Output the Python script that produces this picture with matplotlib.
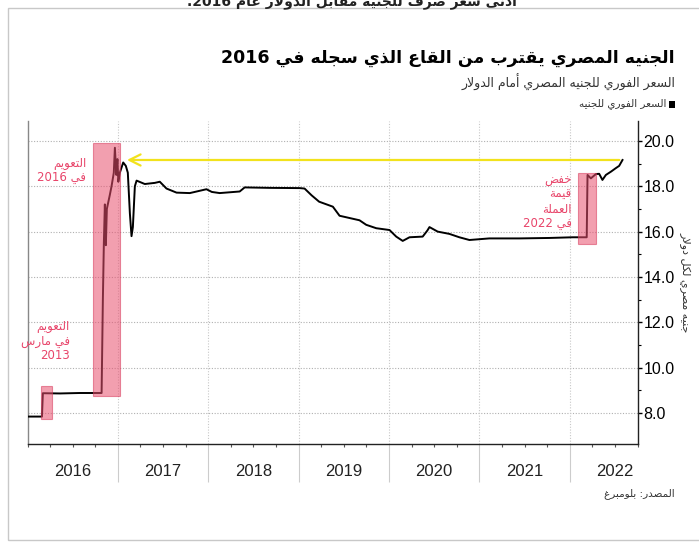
import re
import matplotlib
matplotlib.use('Agg')
import matplotlib.pyplot as plt
from matplotlib.patches import Rectangle
import matplotlib.transforms as mtransforms

# ---- data (decimal years, EGP per USD) ----
dates = [2016.00, 2016.16, 2016.17, 2016.36, 2016.58, 2016.82,
         2016.834, 2016.845, 2016.856, 2016.867, 2016.878, 2016.91, 2016.93,
         2016.955, 2016.967, 2016.983, 2016.995, 2017.005, 2017.022, 2017.059,
         2017.088, 2017.11, 2017.133, 2017.151, 2017.166, 2017.188, 2017.207,
         2017.298, 2017.409, 2017.464, 2017.538, 2017.649, 2017.796, 2017.98,
         2018.04, 2018.127, 2018.348, 2018.403, 2018.68, 2019.011, 2019.066,
         2019.144, 2019.227, 2019.379, 2019.453, 2019.674, 2019.748, 2019.859,
         2020.006, 2020.08, 2020.152, 2020.227, 2020.373, 2020.425, 2020.448,
         2020.539, 2020.668, 2020.779, 2020.89, 2021.11, 2021.442, 2021.773,
         2022.031, 2022.188, 2022.197, 2022.234, 2022.29, 2022.326, 2022.362,
         2022.40, 2022.458, 2022.51, 2022.547, 2022.584]
rate = [7.84, 7.84, 8.87, 8.86, 8.88, 8.88,
        13.0, 15.5, 17.2, 15.4, 17.0, 17.6, 18.0,
        18.6, 19.7, 18.5, 19.2, 18.2, 18.6, 19.05,
        18.9, 18.6, 16.8, 15.8, 16.2, 18.0, 18.25,
        18.1, 18.15, 18.2, 17.9, 17.72, 17.7, 17.87,
        17.75, 17.7, 17.77, 17.95, 17.93, 17.92, 17.9,
        17.6, 17.32, 17.1, 16.7, 16.5, 16.3, 16.15,
        16.07, 15.78, 15.59, 15.75, 15.78, 16.05, 16.2,
        16.0, 15.9, 15.75, 15.63, 15.7, 15.7, 15.72,
        15.75, 15.75, 18.5, 18.35, 18.54, 18.55, 18.28,
        18.5, 18.65, 18.8, 18.9, 19.16]

years = [2016, 2017, 2018, 2019, 2020, 2021, 2022]
yticks = [8, 10, 12, 14, 16, 18, 20]

# highlighted periods: (x0, x1, y0, y1)
boxes = [(2016.145, 2016.267, 7.74, 9.17),
         (2016.72, 2017.02, 8.75, 19.93),
         (2022.094, 2022.29, 15.44, 18.6)]
box_notes = ['التعويم\nفي مارس\n2013', 'التعويم\nفي 2016', 'خفض\nقيمة\nالعملة\nفي 2022']
note_pos = [(2016.47, 12.1), (2016.65, 19.3), (2022.02, 18.55)]

arrow_level = 19.16
arrow_from = 2022.58
arrow_to = 2017.07

# ---- minimal arabic shaping (matplotlib has no RTL layout) ----
FOUR = {'ئ': 0xFE89, 'ب': 0xFE8F, 'ت': 0xFE95, 'ث': 0xFE99, 'ج': 0xFE9D, 'ح': 0xFEA1,
        'خ': 0xFEA5, 'س': 0xFEB1, 'ش': 0xFEB5, 'ص': 0xFEB9, 'ض': 0xFEBD, 'ط': 0xFEC1,
        'ظ': 0xFEC5, 'ع': 0xFEC9, 'غ': 0xFECD, 'ف': 0xFED1, 'ق': 0xFED5, 'ك': 0xFED9,
        'ل': 0xFEDD, 'م': 0xFEE1, 'ن': 0xFEE5, 'ه': 0xFEE9, 'ي': 0xFEF1}
TWO = {'آ': 0xFE81, 'أ': 0xFE83, 'ؤ': 0xFE85, 'إ': 0xFE87, 'ا': 0xFE8D, 'ة': 0xFE93,
       'د': 0xFEA9, 'ذ': 0xFEAB, 'ر': 0xFEAD, 'ز': 0xFEAF, 'و': 0xFEED, 'ى': 0xFEEF}
LAMALEF = {'آ': 0xFEF5, 'أ': 0xFEF7, 'إ': 0xFEF9, 'ا': 0xFEFB}


def shape_line(s):
    out = []
    prev = False
    i = 0
    while i < len(s):
        c = s[i]
        nxt = s[i + 1] if i + 1 < len(s) else ''
        if c == 'ل' and nxt in LAMALEF:
            out.append(chr(LAMALEF[nxt] + (1 if prev else 0)))
            prev = False
            i += 2
            continue
        if c in FOUR:
            after = nxt in FOUR or nxt in TWO
            b = FOUR[c]
            if prev and after:
                g = b + 3
            elif prev:
                g = b + 1
            elif after:
                g = b + 2
            else:
                g = b
            out.append(chr(g))
            prev = True
        elif c in TWO:
            out.append(chr(TWO[c] + (1 if prev else 0)))
            prev = False
        elif c == 'ء':
            out.append(chr(0xFE80))
            prev = False
        else:
            out.append(c)
            prev = False
        i += 1
    shaped = ''.join(out)
    tokens = re.findall(r'[0-9A-Za-z]+|[^0-9A-Za-z]+', shaped)
    return ''.join(t if re.match(r'[0-9A-Za-z]', t) else t[::-1] for t in reversed(tokens))


def ar(s):
    return '\n'.join(shape_line(l) for l in s.split('\n'))


AR_FONT = 'DejaVu Sans'
NUM_FONT = ['Liberation Sans Narrow', 'Liberation Sans', 'DejaVu Sans']
PINK = '#e8456a'

fig = plt.figure(figsize=(6.99, 5.45), dpi=100)
W, H = 699, 545

# outer frame
fig.patches.append(Rectangle((8 / W, 1 - 540 / H), 1.0, (540 - 8) / H, transform=fig.transFigure,
                             fill=False, edgecolor='#c8c8c8', lw=1.0))

# cut off line of text above the frame (only its lower part shows)
fig.text(352 / W, 1 - 1 / H, ar('أدنى سعر صرف للجنيه مقابل الدولار عام 2016.'),
         fontsize=10, fontweight='bold', fontfamily=AR_FONT, ha='center', va='center',
         color='#222222')

ax = fig.add_axes([27.5 / W, 1 - 444 / H, 610 / W, (444 - 121) / H])
ax.set_xlim(2016.0, 2022.74)
ax.set_ylim(6.63, 20.88)

# grid
for y in yticks:
    ax.axhline(y, color='#b0b0b0', lw=0.8, ls=(0, (1, 1.5)), zorder=0)
for yr in years[1:]:
    ax.axvline(yr, color='#c8c8c8', lw=0.8, ls=(0, (1, 1.5)), zorder=0)

ax.plot(dates, rate, color='black', lw=1.4, zorder=3)

for (x0, x1, y0, y1) in boxes:
    ax.add_patch(Rectangle((x0, y0), x1 - x0, y1 - y0, facecolor='#e8506e', alpha=0.55,
                           edgecolor='#d83a5c', lw=0.8, zorder=4))

for txt, (x, y) in zip(box_notes, note_pos):
    ax.text(x, y, ar(txt), color=PINK, fontsize=8.5, fontfamily=AR_FONT, ha='right', va='top',
            multialignment='right', linespacing=1.15, zorder=5)

ax.annotate('', xy=(arrow_to, arrow_level), xytext=(arrow_from, arrow_level),
            arrowprops=dict(arrowstyle='->', color='#f2e21c', lw=1.6, mutation_scale=20),
            zorder=5)

# spines / ticks
ax.spines['top'].set_visible(False)
for s in ['left', 'right', 'bottom']:
    ax.spines[s].set_color('#222222')
    ax.spines[s].set_linewidth(1.0)
ax.spines['left'].set_color('#888888')

ax.yaxis.tick_right()
ax.set_yticks(yticks)
ax.set_yticklabels(['%.1f' % v for v in yticks], fontfamily=NUM_FONT, fontsize=11.5)
ax.set_yticks([9, 11, 13, 15, 17, 19], minor=True)
ax.tick_params(axis='y', which='major', direction='out', length=3, width=1, pad=1.5)
ax.tick_params(axis='y', which='minor', direction='out', length=2.5, width=0.8)
ax.yaxis.set_label_position('right')
ax.set_ylabel(ar('جنيه مصري لكل دولار'), rotation=270, fontsize=8, fontfamily=AR_FONT,
              labelpad=11, color='#333333')

ax.set_xticks(years[1:])
ax.set_xticklabels([])
ax.tick_params(axis='x', which='major', direction='out', length=27, width=0.8, color='#cccccc')
ax.set_xticks([y + q for y in years for q in (0.25, 0.5, 0.75)] + [2016.0], minor=True)
ax.tick_params(axis='x', which='minor', direction='out', length=2.5, width=0.8, color='#555555')

trans = mtransforms.blended_transform_factory(ax.transData, fig.transFigure)
for yr in years:
    ax.text(yr + 0.5, 1 - 471 / H, str(yr), transform=trans, ha='center', va='center',
            fontsize=12, fontfamily=NUM_FONT, color='#222222')

# header
fig.text(675 / W, 1 - 58 / H, ar('الجنيه المصري يقترب من القاع الذي سجله في 2016'),
         fontsize=12.5, fontweight='bold', fontfamily=AR_FONT, ha='right', va='center')
fig.text(675 / W, 1 - 82 / H, ar('السعر الفوري للجنيه المصري أمام الدولار'),
         fontsize=9, fontfamily=AR_FONT, ha='right', va='center', color='#333333')
fig.patches.append(Rectangle((669 / W, 1 - 108 / H), 6 / W, 7 / H, transform=fig.transFigure,
                             facecolor='black', edgecolor='none'))
fig.text(666 / W, 1 - 104 / H, ar('السعر الفوري للجنيه'),
         fontsize=7.5, fontfamily=AR_FONT, ha='right', va='center', color='#333333')
fig.text(675 / W, 1 - 494 / H, ar('المصدر: بلومبرغ'),
         fontsize=7.5, fontfamily=AR_FONT, ha='right', va='center', color='#333333')

fig.savefig('out.png', dpi=100)
